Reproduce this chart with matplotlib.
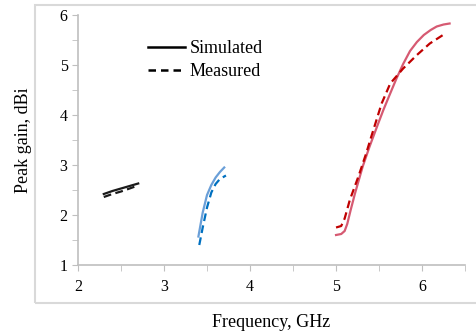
import matplotlib.pyplot as plt
from matplotlib.lines import Line2D
from matplotlib.patches import Rectangle

plt.rcParams['font.family'] = ['Liberation Serif', 'DejaVu Serif']

# band 1 (2.4 GHz)
f1_sim = [2.30, 2.40, 2.50, 2.60, 2.70]
g1_sim = [2.42, 2.48, 2.53, 2.58, 2.63]
f1_meas = [2.30, 2.40, 2.50, 2.60, 2.68]
g1_meas = [2.36, 2.42, 2.47, 2.53, 2.58]

# band 2 (3.5 GHz)
f2_sim = [3.40, 3.45, 3.50, 3.55, 3.60, 3.65, 3.70]
g2_sim = [1.57, 2.05, 2.40, 2.60, 2.75, 2.86, 2.95]
f2_meas = [3.41, 3.45, 3.50, 3.55, 3.60, 3.65, 3.72]
g2_meas = [1.40, 1.75, 2.15, 2.45, 2.62, 2.72, 2.79]

# band 3 (5-6 GHz)
f3_sim = [5.00, 5.06, 5.10, 5.13, 5.17, 5.22, 5.31, 5.39, 5.49, 5.55, 5.61, 5.70,
          5.78, 5.86, 5.94, 6.02, 6.10, 6.17, 6.25, 6.32]
g3_sim = [1.60, 1.62, 1.68, 1.82, 2.10, 2.43, 2.97, 3.37, 3.83, 4.10, 4.35, 4.72,
          5.02, 5.28, 5.46, 5.60, 5.70, 5.77, 5.81, 5.83]
f3_meas = [5.00, 5.06, 5.10, 5.16, 5.26, 5.35, 5.41, 5.47, 5.53, 5.63, 5.78, 5.94, 6.09, 6.27]
g3_meas = [1.75, 1.78, 1.93, 2.30, 2.77, 3.23, 3.57, 3.90, 4.23, 4.63, 4.93, 5.20, 5.43, 5.63]

fig = plt.figure(figsize=(4.77, 3.32), dpi=100)
ax = fig.add_axes([0.1635, 0.2018, 0.8115, 0.753])

# outer chart frame
fig.patches.append(Rectangle((0.0734, 0.0873), 0.93, 0.898, transform=fig.transFigure,
                             fill=False, edgecolor='#D9D9D9', linewidth=1.5))

ax.plot(f1_sim, g1_sim, color='#1a1a1a', lw=1.6)
ax.plot(f1_meas, g1_meas, color='#1a1a1a', lw=1.6, ls=(0, (3.5, 2)))
ax.plot(f2_sim, g2_sim, color='#6A9FD8', lw=1.6)
ax.plot(f2_meas, g2_meas, color='#0070C0', lw=1.6, ls=(0, (3.5, 2)))
ax.plot(f3_sim, g3_sim, color='#D65A72', lw=1.6)
ax.plot(f3_meas, g3_meas, color='#C00000', lw=1.6, ls=(0, (3.5, 2)))

ax.set_xlim(2, 6.5)
ax.set_ylim(1, 6)
ax.set_xticks([2, 3, 4, 5, 6])
ax.set_xticks([2.5, 3.5, 4.5, 5.5, 6.5], minor=True)
ax.set_yticks([1, 2, 3, 4, 5, 6])
ax.set_yticks([1.5, 2.5, 3.5, 4.5, 5.5], minor=True)
for s in ['top', 'right']:
    ax.spines[s].set_visible(False)
for s in ['left', 'bottom']:
    ax.spines[s].set_color('#BFBFBF')
    ax.spines[s].set_linewidth(1.2)
ax.tick_params(which='both', direction='out', length=4, color='#BFBFBF', labelsize=11.5)
ax.tick_params(axis='x', pad=6)

ax.set_xlabel('Frequency, GHz', fontsize=13, labelpad=14)
ax.set_ylabel('Peak gain, dBi', fontsize=13, labelpad=20)

handles = [Line2D([], [], color='black', lw=1.8),
           Line2D([], [], color='black', lw=1.8, ls=(0, (3, 2)))]
ax.legend(handles, ['Simulated', 'Measured'], loc='upper left', bbox_to_anchor=(0.14, 0.965),
          frameon=False, fontsize=13, handlelength=2.0, handletextpad=0.3, labelspacing=0.35)

fig.savefig('out.png', dpi=100)
